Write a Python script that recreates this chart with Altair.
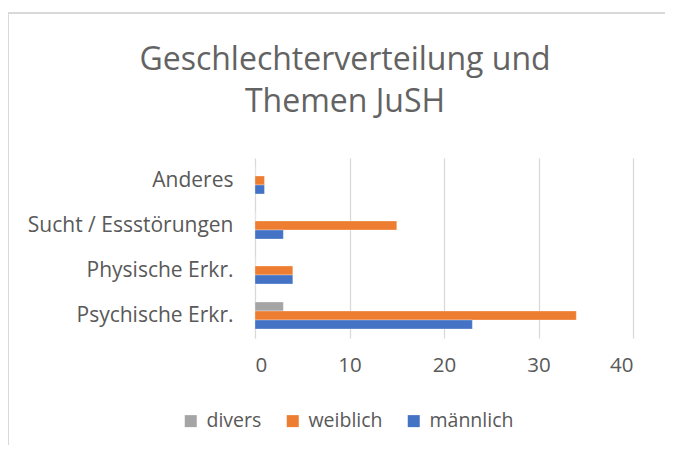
import altair as alt
import pandas as pd

categories = ["Anderes", "Sucht / Essstörungen", "Physische Erkr.", "Psychische Erkr."]
series = ["divers", "weiblich", "männlich"]
maennlich = [1, 3, 4, 23]
weiblich = [1, 15, 4, 34]
divers = [0, 0, 0, 3]
colors = ["#A5A5A5", "#ED7D31", "#4472C4"]

rows = []
for i, c in enumerate(categories):
    rows.append({"Kategorie": c, "Geschlecht": "divers", "Wert": divers[i]})
    rows.append({"Kategorie": c, "Geschlecht": "weiblich", "Wert": weiblich[i]})
    rows.append({"Kategorie": c, "Geschlecht": "männlich", "Wert": maennlich[i]})
df = pd.DataFrame(rows)

FONT = "Open Sans"
GREY = "#595959"

bars = alt.Chart(df).mark_bar(stroke="white", strokeWidth=0.6, strokeOpacity=0.5).encode(
    y=alt.Y("Kategorie:N", sort=categories, title=None,
            scale=alt.Scale(paddingInner=0.4, paddingOuter=0.2),
            axis=alt.Axis(labelFontSize=21, labelColor=GREY, labelFont=FONT, labelLimit=400,
                          ticks=False, domain=False, labelPadding=22, grid=False)),
    yOffset=alt.YOffset("Geschlecht:N", sort=series),
    x=alt.X("Wert:Q", title=None,
            scale=alt.Scale(domain=[0, 40], nice=False),
            axis=alt.Axis(values=[0, 10, 20, 30, 40], labelFontSize=20.5, labelColor=GREY,
                          labelFont=FONT, ticks=False, domain=False, labelPadding=17,
                          grid=True, gridColor="#D9D9D9", gridWidth=1.3)),
    color=alt.Color("Geschlecht:N", sort=series,
                    scale=alt.Scale(domain=series, range=colors),
                    legend=alt.Legend(title=None, orient="none", direction="horizontal",
                                      legendX=-74, legendY=253, symbolType="square",
                                      symbolSize=144, symbolStrokeWidth=0,
                                      labelFontSize=19.5, labelColor=GREY, labelFont=FONT,
                                      columnPadding=21, labelOffset=6)),
)

left_border = alt.Chart(pd.DataFrame({"a": [0]})).mark_rule(color="#D9D9D9", strokeWidth=2).encode(
    x=alt.value(-247), y=alt.value(-145), y2=alt.value(300))
top_border = alt.Chart(pd.DataFrame({"a": [0]})).mark_rule(color="#D9D9D9", strokeWidth=2).encode(
    x=alt.value(-247), x2=alt.value(430), y=alt.value(-145))

chart = alt.layer(left_border, top_border, bars).properties(
    width=378, height=180,
    autosize=alt.AutoSizeParams(type="none"),
    padding={"left": 247, "top": 150, "right": 32, "bottom": 107},
    title=alt.Title(["Geschlechterverteilung und", "Themen JuSH"], fontSize=32,
                    font=FONT, fontWeight="normal", color="#636363", anchor="middle",
                    dx=-99, offset=-107, lineHeight=42),
).configure_view(stroke=None)

chart.save("out.html", embed_options={"renderer": "svg", "actions": False})
